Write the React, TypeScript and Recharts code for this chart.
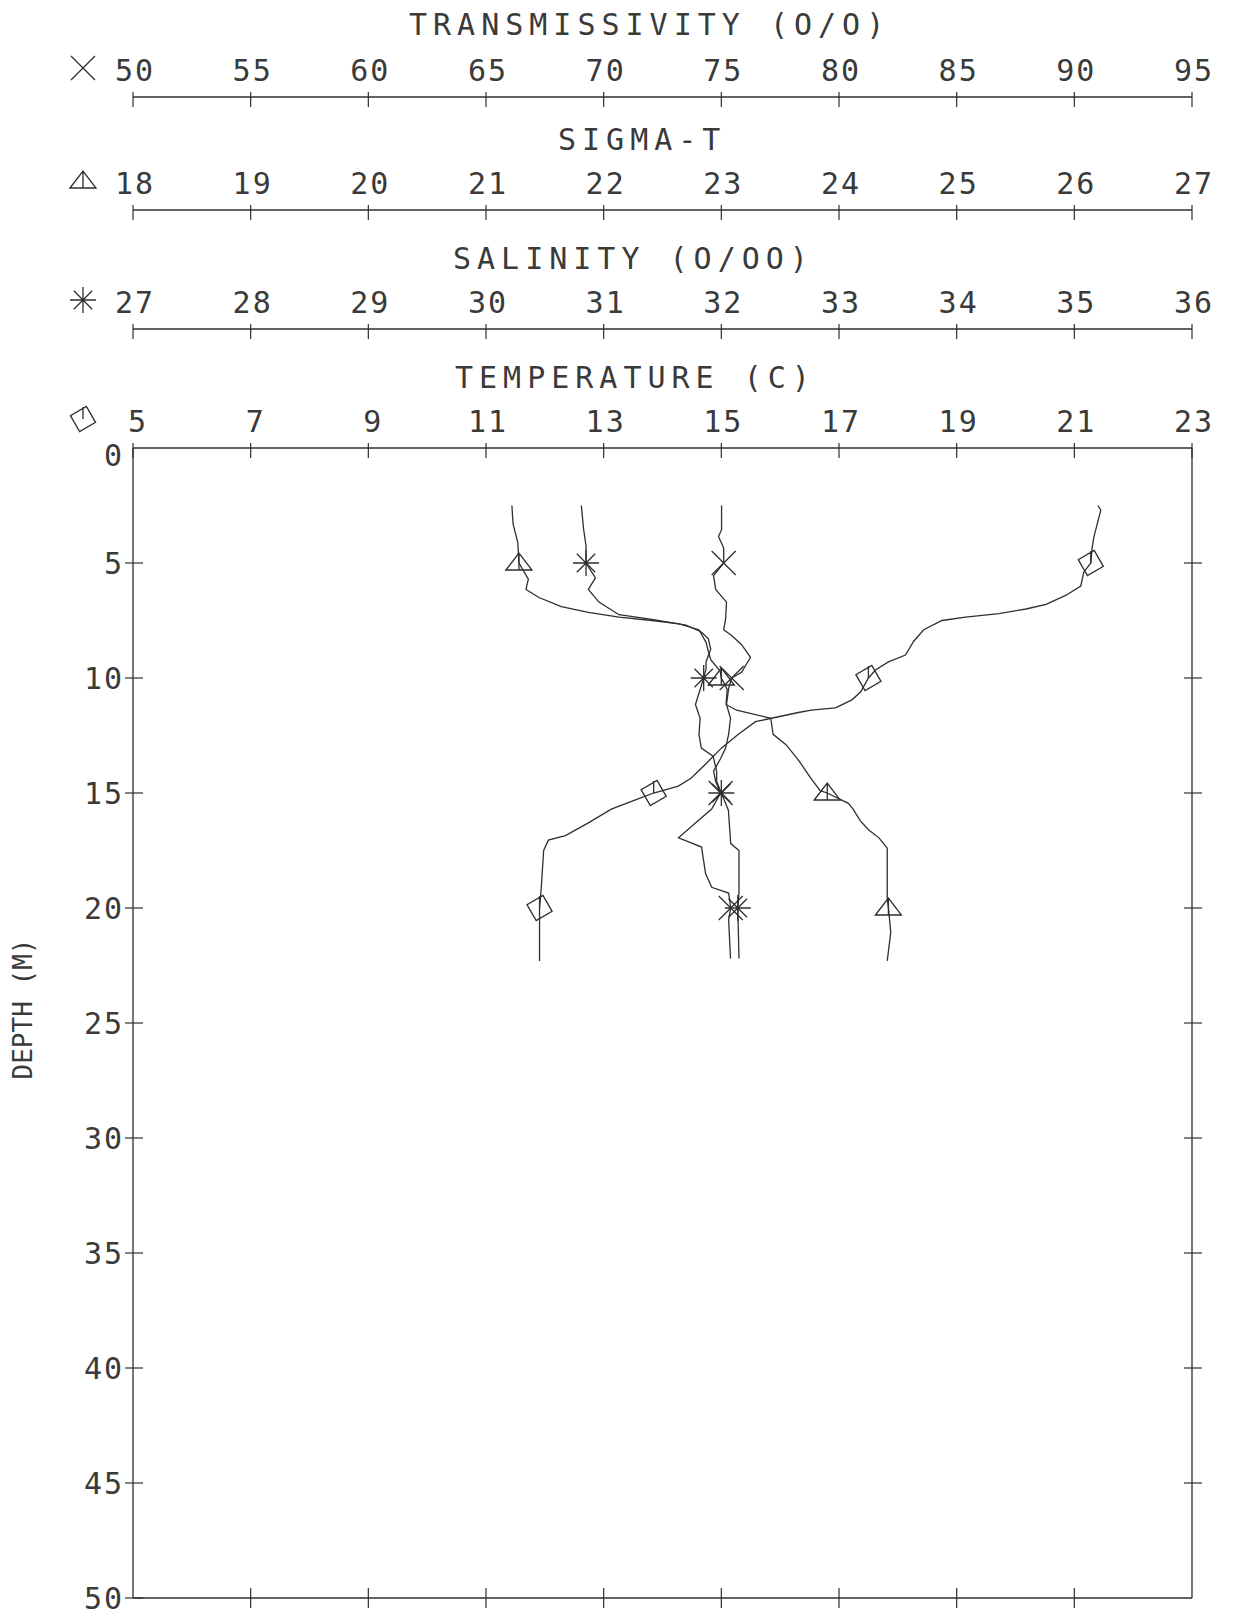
import React from 'react';
import { ScatterChart, Scatter, XAxis, YAxis } from 'recharts';

const tempDepth = [2.5, 2.7, 3.9, 4.4, 5, 5.4, 6, 6.4, 6.8, 7, 7.2, 7.35, 7.5, 7.9, 8.4, 9, 9.3, 9.65, 10, 10.6, 10.95, 11.3, 11.4, 11.5, 11.75, 11.9, 12.45, 13.05, 13.75, 14.35, 14.7, 15, 15.3, 15.7, 16.3, 16.85, 17.05, 17.5, 19.1, 20, 22.3];
const tempValue = [21.4, 21.45, 21.33, 21.3, 21.28, 21.16, 21.11, 20.86, 20.52, 20.18, 19.72, 19.15, 18.75, 18.44, 18.27, 18.13, 17.84, 17.62, 17.5, 17.37, 17.22, 16.94, 16.53, 16.31, 15.85, 15.58, 15.29, 15.0, 14.73, 14.49, 14.27, 13.85, 13.54, 13.13, 12.74, 12.35, 12.06, 11.98, 11.94, 11.91, 11.91];

const sigDepth = [2.5, 3.3, 4.1, 5, 5.7, 6.15, 6.5, 6.9, 7.15, 7.35, 7.5, 7.65, 7.9, 8.45, 8.85, 9.2, 9.7, 10, 10.5, 11.15, 11.4, 11.75, 12.45, 12.9, 13.6, 14.35, 14.9, 15, 15.45, 15.7, 16.2, 16.6, 16.95, 17.4, 19.6, 20, 21.05, 22.3];
const sigValue = [21.22, 21.23, 21.27, 21.28, 21.36, 21.34, 21.45, 21.64, 21.87, 22.13, 22.41, 22.64, 22.81, 22.87, 22.89, 22.91, 22.99, 23.0, 23.05, 23.04, 23.13, 23.42, 23.44, 23.55, 23.66, 23.76, 23.84, 23.9, 24.08, 24.12, 24.18, 24.25, 24.34, 24.41, 24.41, 24.42, 24.44, 24.41];

const salDepth = [2.5, 3.55, 4.25, 5, 5.65, 6.15, 6.7, 7.25, 7.45, 7.7, 8, 8.3, 8.75, 9.3, 9.6, 10, 11.15, 11.75, 12.45, 13.05, 13.4, 14.05, 14.5, 15, 15.75, 17.2, 17.5, 19.35, 20, 22.2];
const salValue = [30.81, 30.83, 30.85, 30.85, 30.93, 30.87, 30.96, 31.13, 31.41, 31.7, 31.83, 31.89, 31.91, 31.87, 31.87, 31.85, 31.78, 31.82, 31.81, 31.83, 31.93, 31.96, 31.96, 32.0, 32.06, 32.08, 32.15, 32.15, 32.14, 32.15];

const trDepth = [2.5, 3.55, 3.85, 4.35, 5, 5.55, 6.15, 6.7, 7.45, 7.9, 8.15, 8.55, 9.1, 9.75, 10, 10.45, 11.15, 11.75, 12.45, 13.05, 13.5, 14.05, 14.5, 15, 15.7, 16.3, 16.95, 17.35, 18.5, 19.1, 19.35, 20, 20.5, 22.2];
const trValue = [75.01, 75.01, 74.88, 75.1, 75.1, 74.67, 74.76, 75.22, 75.18, 75.1, 75.44, 75.86, 76.24, 75.86, 75.44, 75.31, 75.22, 75.39, 75.31, 75.18, 74.97, 74.67, 74.76, 74.97, 74.59, 73.9, 73.18, 74.16, 74.33, 74.59, 75.31, 75.4, 75.31, 75.39];

const markDepths = [5, 10, 15, 20];

const trTicks = [50, 55, 60, 65, 70, 75, 80, 85, 90, 95];
const sigTicks = [18, 19, 20, 21, 22, 23, 24, 25, 26, 27];
const salTicks = [27, 28, 29, 30, 31, 32, 33, 34, 35, 36];
const tempTicks = [5, 7, 9, 11, 13, 15, 17, 19, 21, 23];
const bottomTicks = [7, 9, 11, 13, 15, 17, 19, 21];
const depthTicks = [0, 5, 10, 15, 20, 25, 30, 35, 40, 45, 50];
const rightTicks = [5, 10, 15, 20, 25, 30, 35, 40, 45];

const INK = '#2f2f2f';
const TEXT = '#3a3a3a';
const FONT = '"DejaVu Sans Mono", monospace';

const build = (ds: number[], vs: number[]) =>
  ds.map((d, i) => ({ d, v: vs[i], m: markDepths.includes(d) }));

const Glyph = ({ kind, cx, cy }: { kind: string; cx: number; cy: number }) => {
  let p = '';
  if (kind === 'x') {
    const r = 12;
    p = `M${cx - r},${cy - r}L${cx + r},${cy + r}M${cx - r},${cy + r}L${cx + r},${cy - r}`;
  } else if (kind === 'star') {
    const r = 13;
    const k = r * 0.7071;
    p = `M${cx - r},${cy}L${cx + r},${cy}M${cx},${cy - r}L${cx},${cy + r}` +
      `M${cx - k},${cy - k}L${cx + k},${cy + k}M${cx - k},${cy + k}L${cx + k},${cy - k}`;
  } else if (kind === 'tri') {
    p = `M${cx - 13},${cy + 7}L${cx},${cy - 10}L${cx + 13},${cy + 7}Z M${cx},${cy - 10}L${cx},${cy + 7}`;
  } else {
    const pts = [0, 1, 2, 3].map((k) => {
      const a = ((-75 + k * 90) * Math.PI) / 180;
      return `${cx + 13 * Math.cos(a)},${cy + 13 * Math.sin(a)}`;
    });
    p = `M${pts.join('L')}Z M${cx},${cy}L${cx},${cy - 12}`;
  }
  return <path d={p} fill="none" stroke={INK} strokeWidth={1.3} />;
};

const markShape = (kind: string) => (props: any) => {
  const { cx, cy, payload } = props;
  if (!payload || !payload.m) return <g />;
  return <Glyph kind={kind} cx={cx} cy={cy} />;
};

const TopTick = (props: any) => {
  const { x, y, payload } = props;
  const oneDigit = String(payload.value).length === 1;
  return (
    <g>
      <line x1={x} y1={y - 5} x2={x} y2={y + 10} stroke={INK} strokeWidth={1.2} />
      <text x={x + (oneDigit ? 5 : 2)} y={y - 16} textAnchor="middle" fontFamily={FONT} fontSize={30}
        letterSpacing={2} fill={TEXT}>
        {payload.value}
      </text>
    </g>
  );
};

const LeftTick = (props: any) => {
  const { x, y, payload } = props;
  const top = payload.value === 0;
  return (
    <g>
      {!top && <line x1={x - 8} y1={y} x2={x + 10} y2={y} stroke={INK} strokeWidth={1.2} />}
      <text x={x - 9} y={y + (top ? 18 : 11)} textAnchor="end" fontFamily={FONT} fontSize={30} letterSpacing={2} fill={TEXT}>
        {payload.value}
      </text>
    </g>
  );
};

const RightTick = (props: any) => {
  const { x, y } = props;
  return <line x1={x - 8} y1={y} x2={x + 10} y2={y} stroke={INK} strokeWidth={1.2} />;
};

const BottomTick = (props: any) => {
  const { x, y } = props;
  return <line x1={x} y1={y - 10} x2={x} y2={y + 10} stroke={INK} strokeWidth={1.2} />;
};

const axisTitle = (title: string, dx: number, dy: number, kind: string) => (props: any) => {
  const vb = props.viewBox;
  const line = vb.y + vb.height;
  return (
    <g>
      <text x={vb.x + dx} y={line - 60 + dy} fontFamily={FONT} fontSize={30} letterSpacing={6} fill={TEXT}>
        {title}
      </text>
      <Glyph kind={kind} cx={vb.x - 50} cy={line - 29} />
    </g>
  );
};

const depthTitle = (props: any) => {
  const vb = props.viewBox;
  const cx = vb.x + 15;
  const cy = vb.y + vb.height / 2 - 14;
  return (
    <text x={cx} y={cy} transform={`rotate(-90 ${cx} ${cy})`} textAnchor="middle" dominantBaseline="central"
      fontFamily={FONT} fontSize={26} fill={TEXT}>
      DEPTH (M)
    </text>
  );
};

const axisLine = { stroke: INK, strokeWidth: 1.3 };

// top axes stack outward from the plot in id order
export default function App() {
  return (
    <div style={{ width: 1220, height: 1615 }}>
      <ScatterChart width={1220} height={1615} margin={{ top: 0, right: 0, bottom: 0, left: 0 }}>
        <XAxis xAxisId="a_temp" orientation="top" type="number" dataKey="v" domain={[5, 23]} ticks={tempTicks}
          allowDataOverflow interval={0} height={119} tickSize={0} tickMargin={0} tickLine={false}
          axisLine={axisLine} tick={<TopTick />} label={{ content: axisTitle('TEMPERATURE (C)', 322, 0, 'dia') }} />
        <XAxis xAxisId="b_sal" orientation="top" type="number" dataKey="v" domain={[27, 36]} ticks={salTicks}
          allowDataOverflow interval={0} height={119} tickSize={0} tickMargin={0} tickLine={false}
          axisLine={axisLine} tick={<TopTick />} label={{ content: axisTitle('SALINITY (O/OO)', 320, 0, 'star') }} />
        <XAxis xAxisId="c_sig" orientation="top" type="number" dataKey="v" domain={[18, 27]} ticks={sigTicks}
          allowDataOverflow interval={0} height={113} tickSize={0} tickMargin={0} tickLine={false}
          axisLine={axisLine} tick={<TopTick />} label={{ content: axisTitle('SIGMA-T', 425, 0, 'tri') }} />
        <XAxis xAxisId="d_tr" orientation="top" type="number" dataKey="v" domain={[50, 95]} ticks={trTicks}
          allowDataOverflow interval={0} height={89} tickSize={0} tickMargin={0} tickLine={false}
          axisLine={axisLine} tick={<TopTick />} label={{ content: axisTitle('TRANSMISSIVITY (O/O)', 276, -2, 'x') }} />
        <XAxis xAxisId="e_bottom" orientation="bottom" type="number" dataKey="v" domain={[5, 23]} ticks={bottomTicks}
          allowDataOverflow interval={0} height={25} tickSize={0} tickMargin={0} tickLine={false}
          axisLine={axisLine} tick={<BottomTick />} />
        <YAxis yAxisId="depth" orientation="left" type="number" dataKey="d" domain={[0, 50]} reversed ticks={depthTicks}
          allowDataOverflow interval={0} width={125} tickSize={0} tickMargin={0} tickLine={false}
          axisLine={axisLine} tick={<LeftTick />} label={{ content: depthTitle }} />
        <YAxis yAxisId="right" orientation="right" type="number" dataKey="d" domain={[0, 50]} reversed ticks={rightTicks}
          allowDataOverflow interval={0} width={36} tickSize={0} tickMargin={0} tickLine={false}
          axisLine={axisLine} tick={<RightTick />} />
        <Scatter xAxisId="a_temp" yAxisId="depth" data={build(tempDepth, tempValue)} fill={INK}
          line={{ stroke: INK, strokeWidth: 1.3 }} lineType="joint" shape={markShape('dia')} isAnimationActive={false} />
        <Scatter xAxisId="b_sal" yAxisId="depth" data={build(salDepth, salValue)} fill={INK}
          line={{ stroke: INK, strokeWidth: 1.3 }} lineType="joint" shape={markShape('star')} isAnimationActive={false} />
        <Scatter xAxisId="c_sig" yAxisId="depth" data={build(sigDepth, sigValue)} fill={INK}
          line={{ stroke: INK, strokeWidth: 1.3 }} lineType="joint" shape={markShape('tri')} isAnimationActive={false} />
        <Scatter xAxisId="d_tr" yAxisId="depth" data={build(trDepth, trValue)} fill={INK}
          line={{ stroke: INK, strokeWidth: 1.3 }} lineType="joint" shape={markShape('x')} isAnimationActive={false} />
      </ScatterChart>
    </div>
  );
}
